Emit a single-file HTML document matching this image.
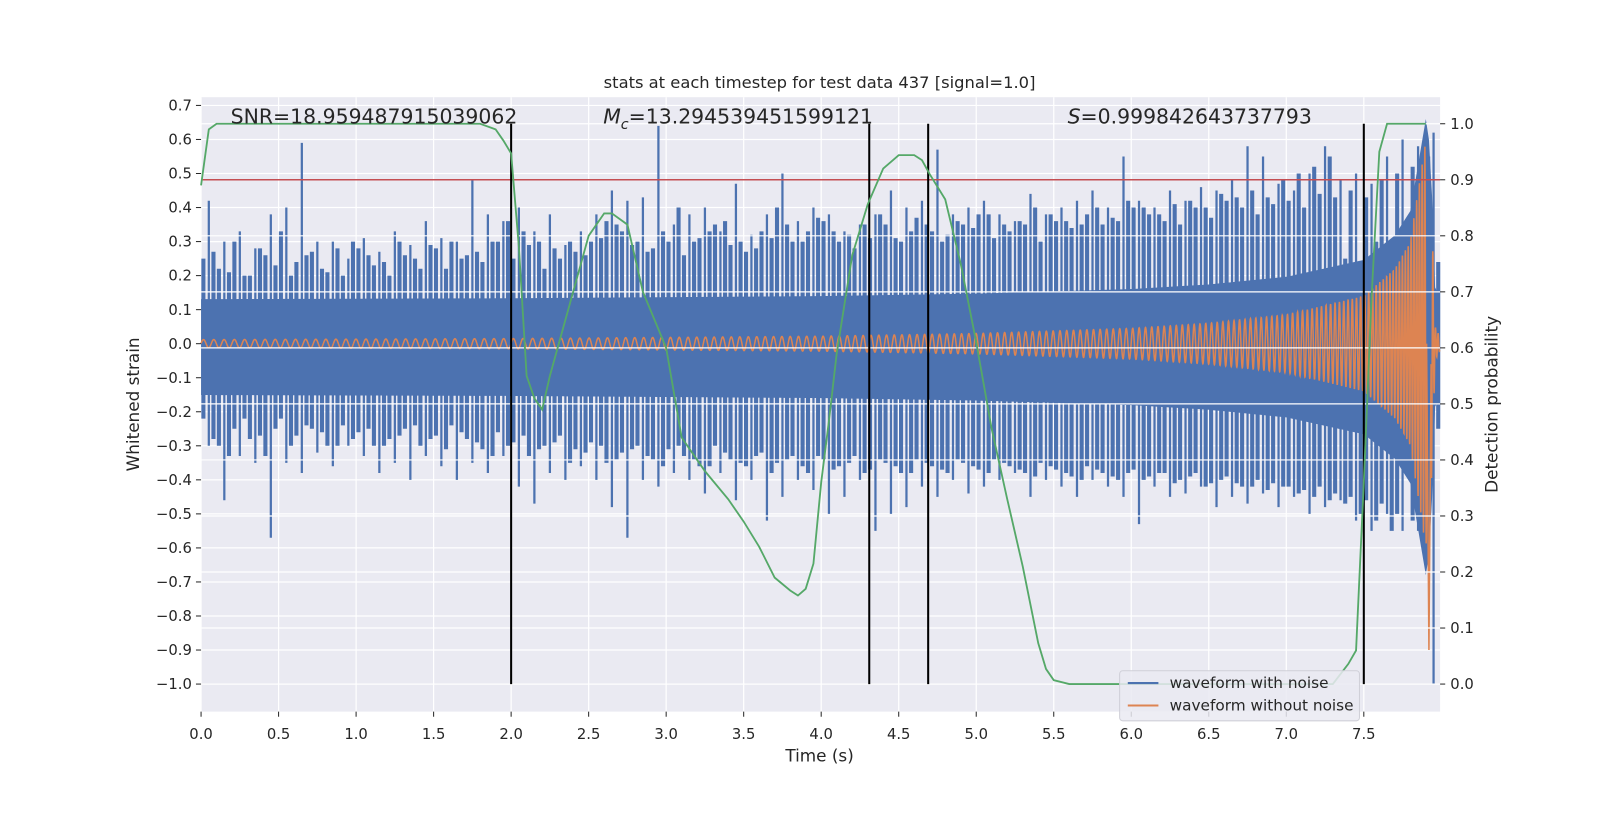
<!DOCTYPE html>
<html><head><meta charset="utf-8">
<style>
html,body{margin:0;padding:0;background:#fff;overflow:hidden;}
svg{display:block;font-family:"DejaVu Sans","Liberation Sans",sans-serif;}
</style></head>
<body>
<svg id="chart" width="1633" height="817" viewBox="0 0 1600 800" xmlns="http://www.w3.org/2000/svg">
<rect x="0" y="0" width="1600" height="800" fill="#fff"/>
<rect x="197" y="95" width="1214" height="602" fill="#eaeaf2"/>
<g id="grid"></g>
<g id="noise"></g>
<g id="clean"></g>
<g id="grid2"></g>
<g id="marks"></g>
<g id="prob"></g>
<g id="axes"></g>
<text x="803" y="86" font-size="16" text-anchor="middle" fill="#262626">stats at each timestep for test data 437 [signal=1.0]</text>
<text x="226" y="121" font-size="20" fill="#262626">SNR=18.959487915039062</text>
<text x="591" y="121" font-size="20" fill="#262626"><tspan font-style="italic">M</tspan><tspan font-style="italic" font-size="14" dy="5">c</tspan><tspan dy="-5">=13.294539451599121</tspan></text>
<text x="1046" y="121" font-size="20" fill="#262626"><tspan font-style="italic">S</tspan>=0.999842643737793</text>
<text x="803" y="746" font-size="16.5" text-anchor="middle" fill="#262626">Time (s)</text>
<text transform="translate(136,396) rotate(-90)" font-size="16.5" text-anchor="middle" fill="#262626">Whitened strain</text>
<text transform="translate(1467,396) rotate(-90)" font-size="16.5" text-anchor="middle" fill="#262626">Detection probability</text>
<g>
<rect x="1097" y="657" width="235" height="49" rx="3" fill="#eaeaf2" fill-opacity="0.85" stroke="#d0d0d8"/>
<line x1="1105" y1="669" x2="1135" y2="669" stroke="#4c72b0" stroke-width="2"/>
<text x="1146" y="674" font-size="15" fill="#262626">waveform with noise</text>
<line x1="1105" y1="691" x2="1135" y2="691" stroke="#dd8452" stroke-width="2"/>
<text x="1146" y="696" font-size="15" fill="#262626">waveform without noise</text>
</g>
</svg>
<script>
const xTicks=[0,0.5,1,1.5,2,2.5,3,3.5,4,4.5,5,5.5,6,6.5,7,7.5];
const yTicks=[0.7,0.6,0.5,0.4,0.3,0.2,0.1,0,-0.1,-0.2,-0.3,-0.4,-0.5,-0.6,-0.7,-0.8,-0.9,-1.0];
const pTicks=[1,0.9,0.8,0.7,0.6,0.5,0.4,0.3,0.2,0.1,0];
const probT=[0,0.05,0.1,1.8,1.9,1.95,2.0,2.05,2.1,2.15,2.2,2.25,2.4,2.5,2.6,2.65,2.75,2.85,3.0,3.1,3.25,3.4,3.5,3.6,3.7,3.8,3.85,3.9,3.95,4.0,4.05,4.1,4.2,4.3,4.4,4.5,4.6,4.65,4.7,4.8,4.9,5.0,5.1,5.2,5.3,5.4,5.45,5.5,5.6,7.3,7.4,7.45,7.5,7.55,7.6,7.65,7.9];
const probV=[0.89,0.99,1.0,1.0,0.99,0.97,0.947,0.78,0.55,0.51,0.49,0.55,0.7,0.8,0.84,0.84,0.82,0.7,0.6,0.44,0.38,0.33,0.29,0.245,0.19,0.167,0.158,0.17,0.215,0.36,0.47,0.59,0.765,0.856,0.92,0.944,0.944,0.935,0.91,0.865,0.75,0.61,0.455,0.33,0.21,0.073,0.027,0.007,0.0,0.0,0.036,0.06,0.36,0.69,0.95,1.0,1.0];
const noiseHi=[0.42,0.3,0.33,0.28,0.38,0.4,0.59,0.3,0.3,0.25,0.31,0.27,0.33,0.29,0.36,0.31,0.3,0.48,0.38,0.36,0.4,0.33,0.38,0.29,0.33,0.38,0.45,0.42,0.43,0.64,0.35,0.38,0.4,0.33,0.47,0.32,0.38,0.5,0.36,0.4,0.38,0.33,0.35,0.38,0.45,0.4,0.42,0.57,0.38,0.4,0.42,0.38,0.36,0.44,0.38,0.4,0.42,0.45,0.4,0.55,0.42,0.4,0.45,0.42,0.46,0.45,0.48,0.58,0.55,0.47,0.45,0.5,0.58,0.48,0.5,0.47,0.55,0.6,0.58,0.62];
const noiseLo=[-0.3,-0.46,-0.33,-0.35,-0.57,-0.35,-0.38,-0.32,-0.36,-0.3,-0.33,-0.38,-0.35,-0.4,-0.33,-0.36,-0.4,-0.35,-0.38,-0.33,-0.42,-0.47,-0.38,-0.4,-0.36,-0.4,-0.48,-0.57,-0.4,-0.42,-0.38,-0.4,-0.44,-0.38,-0.46,-0.4,-0.52,-0.45,-0.4,-0.43,-0.5,-0.45,-0.4,-0.55,-0.5,-0.48,-0.42,-0.45,-0.4,-0.44,-0.42,-0.4,-0.38,-0.45,-0.4,-0.42,-0.45,-0.4,-0.42,-0.45,-0.53,-0.42,-0.45,-0.44,-0.42,-0.48,-0.45,-0.47,-0.44,-0.48,-0.45,-0.5,-0.48,-0.46,-0.52,-0.55,-0.5,-0.55,-0.55,-1.0];
const noiseHi2=[0.25,0.22,0.3,0.2,0.26,0.33,0.24,0.27,0.21,0.2,0.28,0.23,0.2,0.26,0.22,0.28,0.3,0.26,0.24,0.3,0.25,0.29,0.22,0.25,0.27,0.3,0.36,0.33,0.3,0.28,0.3,0.26,0.31,0.35,0.29,0.27,0.33,0.4,0.3,0.33,0.36,0.3,0.28,0.31,0.35,0.3,0.37,0.33,0.32,0.35,0.38,0.31,0.33,0.35,0.3,0.36,0.34,0.38,0.35,0.36,0.4,0.38,0.36,0.35,0.4,0.37,0.42,0.4,0.38,0.41,0.42,0.4,0.44,0.43,0.45,0.43,0.48,0.5,0.52,0.55];
const noiseLo2=[-0.22,-0.3,-0.25,-0.28,-0.33,-0.22,-0.27,-0.25,-0.3,-0.24,-0.26,-0.3,-0.28,-0.25,-0.3,-0.27,-0.24,-0.28,-0.31,-0.26,-0.29,-0.33,-0.3,-0.27,-0.31,-0.29,-0.35,-0.32,-0.3,-0.34,-0.31,-0.33,-0.36,-0.3,-0.34,-0.36,-0.32,-0.35,-0.33,-0.38,-0.34,-0.36,-0.33,-0.37,-0.35,-0.38,-0.34,-0.36,-0.38,-0.35,-0.37,-0.34,-0.36,-0.38,-0.35,-0.37,-0.39,-0.36,-0.38,-0.4,-0.37,-0.39,-0.38,-0.4,-0.38,-0.41,-0.39,-0.42,-0.4,-0.41,-0.42,-0.43,-0.42,-0.44,-0.45,-0.46,-0.47,-0.5,-0.52,-0.55];
const noiseCore=[0.12];
const ampT=[0,2,4,5,6,6.5,7,7.5,7.7,7.8,7.85,7.9,7.93,7.96,8.0];
const ampV=[0.012,0.015,0.022,0.03,0.045,0.06,0.085,0.14,0.22,0.3,0.45,0.6,0.5,0.05,0.01];
const freqT=[0,2,4,6,7,7.5,7.8,8.0];
const freqV=[15,16,19,24,30,38,55,60];
const vLines=[2.0,4.31,4.69,7.5];
const threshold=[0.9];

const X0=197,X1=1411,Y0=95,Y1=697;
const sx=t=>197+t*151.9;
const sy=v=>670-(v+1.0)*333.5;
const sp=p=>670-p*549;
const NS="http://www.w3.org/2000/svg";
function mk(tag,parent,attrs){const e=document.createElementNS(NS,tag);for(const k in attrs)e.setAttribute(k,attrs[k]);document.getElementById(parent).appendChild(e);return e;}
function interp(ts,vs,t){if(t<=ts[0])return vs[0];for(let i=1;i<ts.length;i++){if(t<=ts[i]){const f=(t-ts[i-1])/(ts[i]-ts[i-1]);return vs[i-1]+f*(vs[i]-vs[i-1]);}}return vs[vs.length-1];}

xTicks.forEach(t=>{
 const g=mk('line','grid',{x1:sx(t),x2:sx(t),y1:Y0,y2:Y1,stroke:'#fff','stroke-width':1.2});
 
 
 const tk=mk('line','axes',{x1:sx(t),x2:sx(t),y1:Y1,y2:Y1+5,stroke:'#262626'});
 
 
 const l=mk('text','axes',{x:sx(t),y:Y1+27,'font-size':14.5,'text-anchor':'middle',fill:'#262626'});
 l.textContent=t.toFixed(1);
 
 
});
yTicks.forEach(v=>{
 const g=mk('line','grid',{x1:X0,x2:X1,y1:sy(v),y2:sy(v),stroke:'#fff','stroke-width':1.2});
 
 
 const tk=mk('line','axes',{x1:X0-5,x2:X0,y1:sy(v),y2:sy(v),stroke:'#262626'});
 
 
 const l=mk('text','axes',{x:X0-9,y:sy(v)+5,'font-size':14.5,'text-anchor':'end',fill:'#262626'});
 l.textContent=(v<0?'\u2212':'')+Math.abs(v).toFixed(1);
 
 
});
const bw=0.1;
noiseHi.forEach((h,i)=>{
 const t=i*bw+0.05;
 const s=mk('line','noise',{x1:sx(t),x2:sx(t),y1:sy(h),y2:sy(noiseLo[i]),stroke:'#4c72b0','stroke-width':2.2});
 
 
});
noiseHi2.forEach((h,i)=>{
 const t=i*bw+0.015;
 const s=mk('line','noise',{x1:sx(t),x2:sx(t),y1:sy(h),y2:sy(noiseLo2[i]),stroke:'#4c72b0','stroke-width':4});
 
 
 const s2=mk('line','noise',{x1:sx(t+0.065),x2:sx(t+0.065),y1:sy(noiseHi2[(i+7)%80]),y2:sy(noiseLo2[(i+3)%80]),stroke:'#4c72b0','stroke-width':4});
 
 
});
let up=[],dn=[];
for(let t=0;t<=7.99;t+=0.02){const a=interp(ampT,ampV,t)*0.9+noiseCore[0];up.push(sx(t)+','+sy(a));dn.unshift(sx(t)+','+sy(-a-0.02));}
const core=mk('polygon','noise',{points:up.concat(dn).join(' '),fill:'#4c72b0'});


let ph=0,pts=[];
for(let t=0;t<=7.99;t+=0.001){ph+=2*Math.PI*interp(freqT,freqV,t)*0.001;let a=interp(ampT,ampV,t);let v=a*Math.sin(ph);if(t>7.905&&t<7.935)v=-0.9*(1-Math.abs(t-7.92)/0.015);pts.push(sx(t).toFixed(2)+','+sy(v).toFixed(2));}
const cl=mk('polyline','clean',{points:pts.join(' '),fill:'none',stroke:'#dd8452','stroke-width':1.5});


pTicks.forEach(p=>{
 const g=mk('line','grid2',{x1:X0,x2:X1,y1:sp(p),y2:sp(p),stroke:'#fff','stroke-width':1.2});
 
 
 const tk=mk('line','axes',{x1:X1,x2:X1+5,y1:sp(p),y2:sp(p),stroke:'#262626'});
 
 
 const l=mk('text','axes',{x:X1+10,y:sp(p)+5,'font-size':14.5,fill:'#262626'});
 l.textContent=p.toFixed(1);
 
 
});
threshold.forEach(p=>{
 const r=mk('line','marks',{x1:X0,x2:X1,y1:sp(p),y2:sp(p),stroke:'#c44e52','stroke-width':1.5});
 
 
});
vLines.forEach(t=>{
 const v=mk('line','marks',{x1:sx(t),x2:sx(t),y1:sp(1),y2:sp(0),stroke:'#000','stroke-width':2});
 
 
});
const pp=probT.map((t,i)=>sx(t)+','+sp(probV[i])).join(' ');
const pl=mk('polyline','prob',{points:pp,fill:'none',stroke:'#55a868','stroke-width':1.8});


</script>
</body></html>
